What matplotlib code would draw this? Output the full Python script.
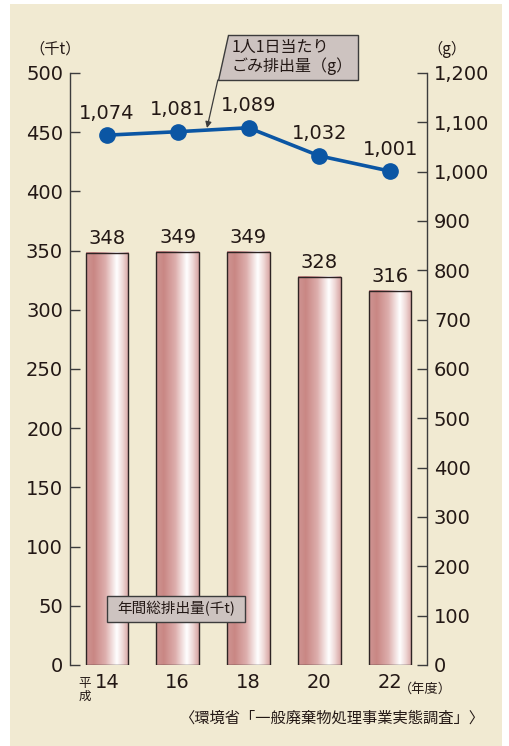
import numpy as np
import matplotlib.pyplot as plt
from matplotlib.colors import LinearSegmentedColormap
from matplotlib.patches import Rectangle, Polygon

plt.rcParams['font.family'] = ['Noto Sans CJK JP', 'DejaVu Sans']
NUM = 'DejaVu Sans'   # digits look closer to the original with this one

# data
years = ['14', '16', '18', '20', '22']
total = [348, 349, 349, 328, 316]          # 年間総排出量 (千t)
per_person = [1074, 1081, 1089, 1032, 1001]  # 1人1日当たり (g)

W, H = 509, 746
fig = plt.figure(figsize=(W / 100, H / 100), dpi=100)
fig.patch.set_facecolor('white')

def fp(x, y):
    # pixel (from top-left) -> figure fraction
    return (x / W, 1 - y / H)

# beige panel
fig.patches.append(Rectangle(fp(10, 746), 492 / W, 742 / H, transform=fig.transFigure,
                             facecolor='#F1EAD2', edgecolor='none', zorder=-5))

ax = fig.add_axes([70 / W, 81 / H, 357 / W, 592 / H])
ax.set_facecolor('none')
ax2 = ax.twinx()

x = np.arange(len(years))
bw = 0.6
cmap = LinearSegmentedColormap.from_list('bar', [
    (0.0, '#CF9593'), (0.18, '#C98784'), (0.45, '#DDAEAC'),
    (0.72, '#FFFFFF'), (0.86, '#EFD8D6'), (1.0, '#D7A4A2')])
grad = np.linspace(0, 1, 200).reshape(1, -1)
for xi, v in zip(x, total):
    ax.imshow(grad, cmap=cmap, aspect='auto', extent=(xi - bw / 2, xi + bw / 2, 0, v),
              zorder=2, interpolation='bilinear')
ax.bar(x, total, width=bw, color='none', edgecolor='#2E2424', linewidth=1.0, zorder=3)
for xi, v in zip(x, total):
    ax.text(xi, v + 4, str(v), ha='center', va='bottom', fontsize=14, color='#231815',
            family=NUM)

ax.set_xlim(-0.52, 4.52)
ax.set_ylim(0, 500)
ax.set_yticks(range(0, 501, 50))
ax2.set_ylim(0, 1200)
ax2.set_yticks(range(0, 1201, 100))
ax2.set_yticklabels([f'{v:,}' for v in range(0, 1201, 100)])

ax2.plot(x, per_person, color='#0B56A4', linewidth=2.6, marker='o', markersize=11,
         zorder=5)
for xi, v in zip(x, per_person):
    ax2.annotate(f'{v:,}', (xi, v), xytext=(0, 9), textcoords='offset points',
                 ha='center', va='bottom', fontsize=14, color='#231815', family=NUM)

for a in (ax, ax2):
    for s in ('top', 'bottom'):
        a.spines[s].set_visible(False)
    for s in ('left', 'right'):
        a.spines[s].set_color('#3C3C3C')
        a.spines[s].set_linewidth(1.0)
    a.tick_params(axis='y', direction='in', length=7, width=1.0, color='#3C3C3C',
                  labelsize=14, labelcolor='#231815', pad=5)
    for lab in a.get_yticklabels():
        lab.set_family(NUM)
ax2.spines['left'].set_visible(False)
ax.spines['right'].set_visible(False)

ax.set_xticks(x)
ax.set_xticklabels(years, fontsize=14, color='#231815', family=NUM)
ax.tick_params(axis='x', length=0, pad=6)

# unit labels
fig.text(*fp(55, 49), '（千t）', fontsize=11, ha='center', va='center', color='#231815')
fig.text(*fp(447, 49), '（g）', fontsize=11, ha='center', va='center', color='#231815')
fig.text(*fp(85, 690), '平\n成', fontsize=9, ha='center', va='center',
         color='#231815', linespacing=0.95)
fig.text(*fp(425, 689), '（年度）', fontsize=9.5, ha='center', va='center', color='#231815')
fig.text(*fp(484, 718), '〈環境省「一般廃棄物処理事業実態調査」〉', fontsize=11,
         ha='right', va='center', color='#231815')

# callout box for the line
tip = (207, 128)
top_left = (228, 35)
slope = (top_left[0] - tip[0]) / (tip[1] - top_left[1])
bl = (top_left[0] - slope * (80 - top_left[1]), 80)
poly = Polygon([fp(*top_left), fp(358, 35), fp(358, 80), fp(*bl)], closed=True,
               transform=fig.transFigure, facecolor='#CDC3C0', edgecolor='#3C3C3C',
               linewidth=1.0, zorder=6)
fig.patches.append(poly)
fig.text(*fp(232, 57), '1人1日当たり\nごみ排出量（g）', fontsize=11.5, ha='left',
         va='center', color='#231815', linespacing=1.15, zorder=7)
ax2.annotate('', xy=fp(*tip), xycoords='figure fraction', xytext=fp(*bl),
             textcoords='figure fraction',
             arrowprops=dict(arrowstyle='-|>', color='#3C3C3C', lw=0.9,
                             mutation_scale=9, shrinkA=0, shrinkB=0), zorder=7)

# label box for the bars
fig.patches.append(Rectangle(fp(107, 622), 138 / W, 26 / H, transform=fig.transFigure,
                             facecolor='#CDC3C0', edgecolor='#3C3C3C', linewidth=1.0,
                             zorder=6))
fig.text(*fp(176, 609), '年間総排出量(千t)', fontsize=10.5, ha='center', va='center',
         color='#231815', zorder=7)

fig.savefig('out.png', dpi=100, facecolor=fig.get_facecolor())
